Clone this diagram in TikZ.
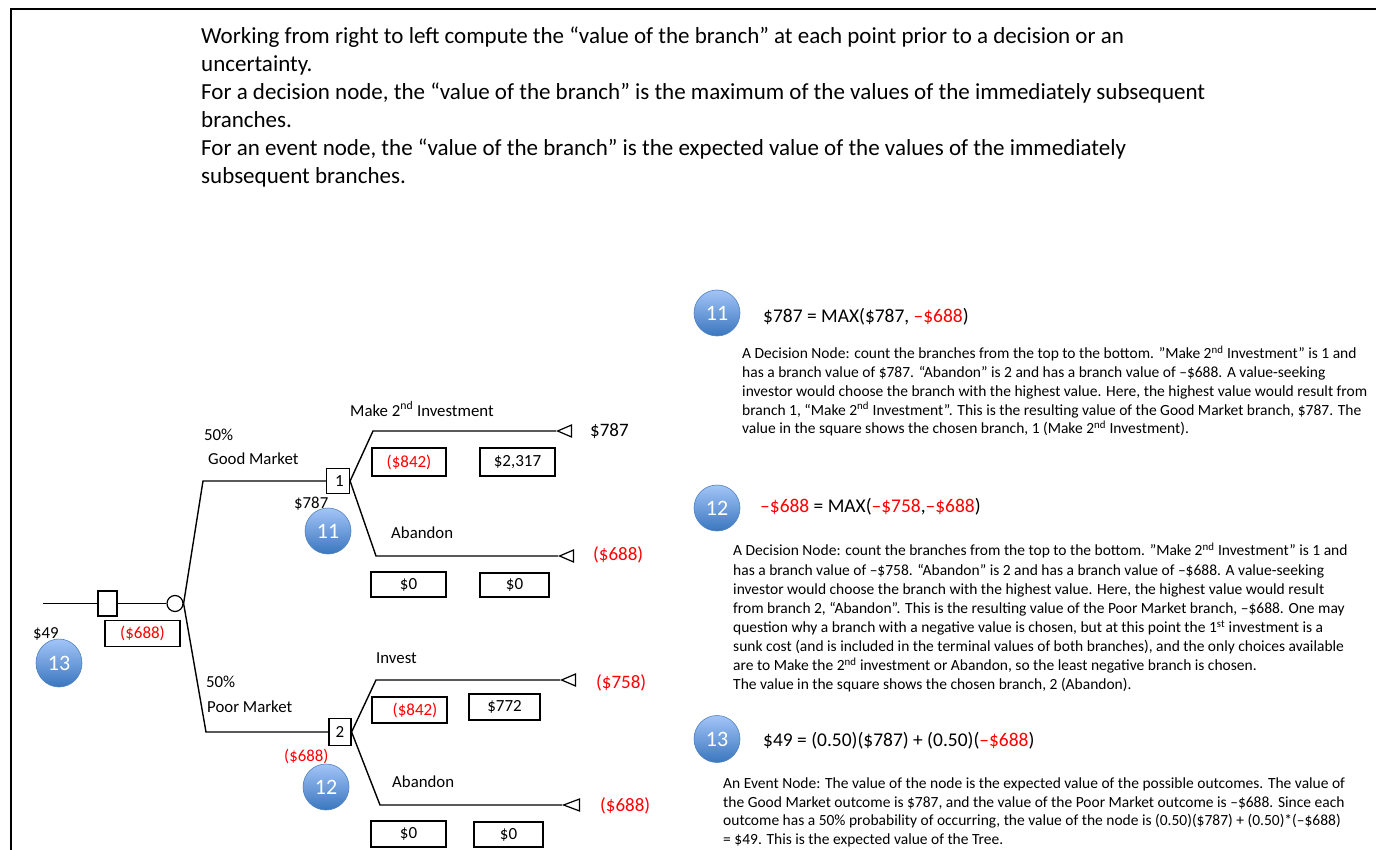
\documentclass[tikz,border=0pt]{standalone}
\usepackage{fontspec}
\setmainfont{Carlito}
\usetikzlibrary{shapes.geometric}
\definecolor{negred}{RGB}{255,0,0}
\definecolor{badgetop}{RGB}{163,197,248}
\definecolor{badgebot}{RGB}{58,118,190}
\definecolor{badgeline}{RGB}{79,129,189}
\newcommand{\red}[1]{\textcolor{negred}{#1}}
\tikzset{
  x=1pt,y=-1pt,
  treeline/.style={line width=1.4pt,black},
  framed/.style={line width=2pt,black},
  treetext/.style={font=\fontsize{16.8}{20}\selectfont,inner sep=0pt,anchor=base west},
  negtext/.style={treetext,text=negred},
  endtext/.style={font=\fontsize{19}{22}\selectfont},
  valbox/.style={draw,line width=1.2pt,font=\fontsize{17}{20}\selectfont,inner sep=0pt,minimum height=26},
  decnode/.style={draw,fill=white,line width=1.2pt,font=\fontsize{17}{20}\selectfont,inner sep=0pt},
  evnode/.style={draw,fill=white,circle,line width=1.2pt,minimum size=16,inner sep=0pt},
  endnode/.style={draw,fill=white,line width=1.2pt,isosceles triangle,isosceles triangle stretches,shape border rotate=180,inner sep=0pt,minimum width=12,minimum height=14,anchor=apex},
  badge/.style={ellipse,draw=badgeline,line width=0.6pt,top color=badgetop,bottom color=badgebot,text=white,font=\fontsize{22}{24}\selectfont,inner sep=0pt,minimum width=46,minimum height=46},
  headtext/.style={font=\fontsize{19.45}{22}\selectfont,inner sep=0pt,anchor=base west},
  bodytext/.style={font=\fontsize{15.5}{18.75}\selectfont,inner sep=0pt,anchor=north west,align=left},
  toptext/.style={font=\fontsize{23}{28}\selectfont,inner sep=0pt,anchor=north west,align=left},
}
\begin{document}
\begin{tikzpicture}
\useasboundingbox (0,0) rectangle (1376,850);
\coordinate (fa) at (10.5,850);
\coordinate (fb) at (10.5,9);
\coordinate (fc) at (1376,9);
\draw[framed] (fa) -- (fb) -- (fc);

\node[toptext] (intro) at (201,27) {Working from right to left compute the “value of the branch” at each point prior to a decision or an\\
uncertainty.\\
For a decision node, the “value of the branch” is the maximum of the values of the immediately subsequent\\
branches.\\
For an event node, the “value of the branch” is the expected value of the values of the immediately\\
subsequent branches.};

% tree nodes
\coordinate (start) at (43,603.5);
\node[decnode,minimum width=19,minimum height=25] (d0) at (107.5,603.5) {};
\node[evnode] (ev) at (175,603.5) {};
\coordinate (eu) at (203,481);
\coordinate (el) at (206,732);
\node[decnode,minimum width=23,minimum height=25] (d1) at (338,481) {\hspace*{3pt}1};
\node[decnode,minimum width=22,minimum height=27] (d2) at (340,732) {2};
\coordinate (a1) at (373,431);
\coordinate (a2) at (376,556);
\coordinate (b1) at (376,680);
\coordinate (b2) at (380,805);
\node[endnode] (t1) at (556,431) {};
\node[endnode] (t2) at (558,556) {};
\node[endnode] (t3) at (560,680) {};
\node[endnode,minimum height=16] (t4) at (562,805) {};

% connectors
\draw[treeline] (start) -- (d0.west);
\draw[treeline] (d0.east) -- (ev.west);
\draw[treeline] (ev.east) -- (eu) -- (d1.west);
\draw[treeline] (ev.east) -- (el) -- (d2.west);
\draw[treeline] (d1.east) -- (a1) -- (t1.apex);
\draw[treeline] (d1.east) -- (a2) -- (t2.apex);
\draw[treeline] (d2.east) -- (b1) -- (t3.apex);
\draw[treeline] (d2.east) -- (b2) -- (t4.apex);

% value boxes
\node[valbox,minimum width=75] (v0) at (142.5,633.5) {\red{(\$688)}};
\node[valbox,minimum width=74,minimum height=28] (v1) at (409,462) {\red{(\$842)}};
\node[valbox,minimum width=75,minimum height=28] (v2) at (517.5,462) {\$2,317};
\node[valbox,minimum width=75,minimum height=25] (v3) at (408.5,584.5) {\$0};
\node[valbox,minimum width=69,minimum height=24] (v4) at (514.5,585) {\$0};
\node[valbox,minimum width=75] (v5) at (409.5,710) {\hspace*{11pt}\red{(\$842)}};
\node[valbox,minimum width=71] (v6) at (504.5,707) {\$772};
\node[valbox,minimum width=75] (v7) at (408.5,834) {\$0};
\node[valbox,minimum width=69,minimum height=25] (v8) at (508.5,834.5) {\$0};

% labels
\node[treetext] (l1) at (204,440) {50\%};
\node[treetext] (l2) at (208,464) {Good Market};
\node[treetext] (l3) at (206,687) {50\%};
\node[treetext] (l4) at (207,712) {Poor Market};
\node[treetext] (l5) at (350,416) {Make 2\textsuperscript{nd} Investment};
\node[treetext] (l6) at (391,538) {Abandon};
\node[treetext] (l7) at (376,663) {Invest};
\node[treetext] (l8) at (392,787) {Abandon};
\node[treetext,endtext] (p1) at (590,436) {\$787};
\node[negtext,endtext] (p2) at (593,560) {(\$688)};
\node[negtext,endtext] (p3) at (596,688) {(\$758)};
\node[negtext,endtext] (p4) at (600,811) {(\$688)};
\node[treetext] (r0) at (33,638) {\$49};
\node[treetext] (r1) at (294,508) {\$787};
\node[negtext] (r2) at (284,761) {(\$688)};

% badges on tree
\node[badge] (c11) at (328,531) {11};
\node[badge] (c12) at (326,787) {12};
\node[badge,minimum height=48] (c13) at (59,663) {13};

% explanation panel
\node[badge] (s11) at (717,313) {11};
\node[badge] (s12) at (717,508) {12};
\node[badge,minimum height=47] (s13) at (717,739) {13};

\node[headtext] (h11) at (763,323) {\$787 = MAX(\$787, \red{–\$688})};
\node[headtext] (h12) at (760,512) {\red{–\$688} = MAX(\red{–\$758},\red{–\$688})};
\node[headtext] (h13) at (763,746) {\$49 = (0.50)(\$787) + (0.50)(\red{–\$688})};

\node[bodytext] (b11) at (742,346) {A Decision Node: count the branches from the top to the bottom. "Make 2\textsuperscript{nd} Investment" is 1 and\\
has a branch value of \$787. “Abandon" is 2 and has a branch value of –\$688. A value-seeking\\
investor would choose the branch with the highest value. Here, the highest value would result from\\
branch 1, “Make 2\textsuperscript{nd} Investment”. This is the resulting value of the Good Market branch, \$787. The\\
value in the square shows the chosen branch, 1 (Make 2\textsuperscript{nd} Investment).};

\node[bodytext,font=\fontsize{15.5}{19.1}\selectfont] (b12) at (733,543) {A Decision Node: count the branches from the top to the bottom. "Make 2\textsuperscript{nd} Investment" is 1 and\\
has a branch value of –\$758. “Abandon" is 2 and has a branch value of –\$688. A value-seeking\\
investor would choose the branch with the highest value. Here, the highest value would result\\
from branch 2, “Abandon". This is the resulting value of the Poor Market branch, –\$688. One may\\
question why a branch with a negative value is chosen, but at this point the 1\textsuperscript{st} investment is a\\
sunk cost (and is included in the terminal values of both branches), and the only choices available\\
are to Make the 2\textsuperscript{nd} investment or Abandon, so the least negative branch is chosen.\\
The value in the square shows the chosen branch, 2 (Abandon).};

\node[bodytext,font=\fontsize{15.5}{18.5}\selectfont] (b13) at (723,778) {An Event Node: The value of the node is the expected value of the possible outcomes. The value of\\
the Good Market outcome is \$787, and the value of the Poor Market outcome is –\$688. Since each\\
outcome has a 50\% probability of occurring, the value of the node is (0.50)(\$787) + (0.50)*(–\$688)\\
= \$49. This is the expected value of the Tree.};
\end{tikzpicture}
\end{document}
